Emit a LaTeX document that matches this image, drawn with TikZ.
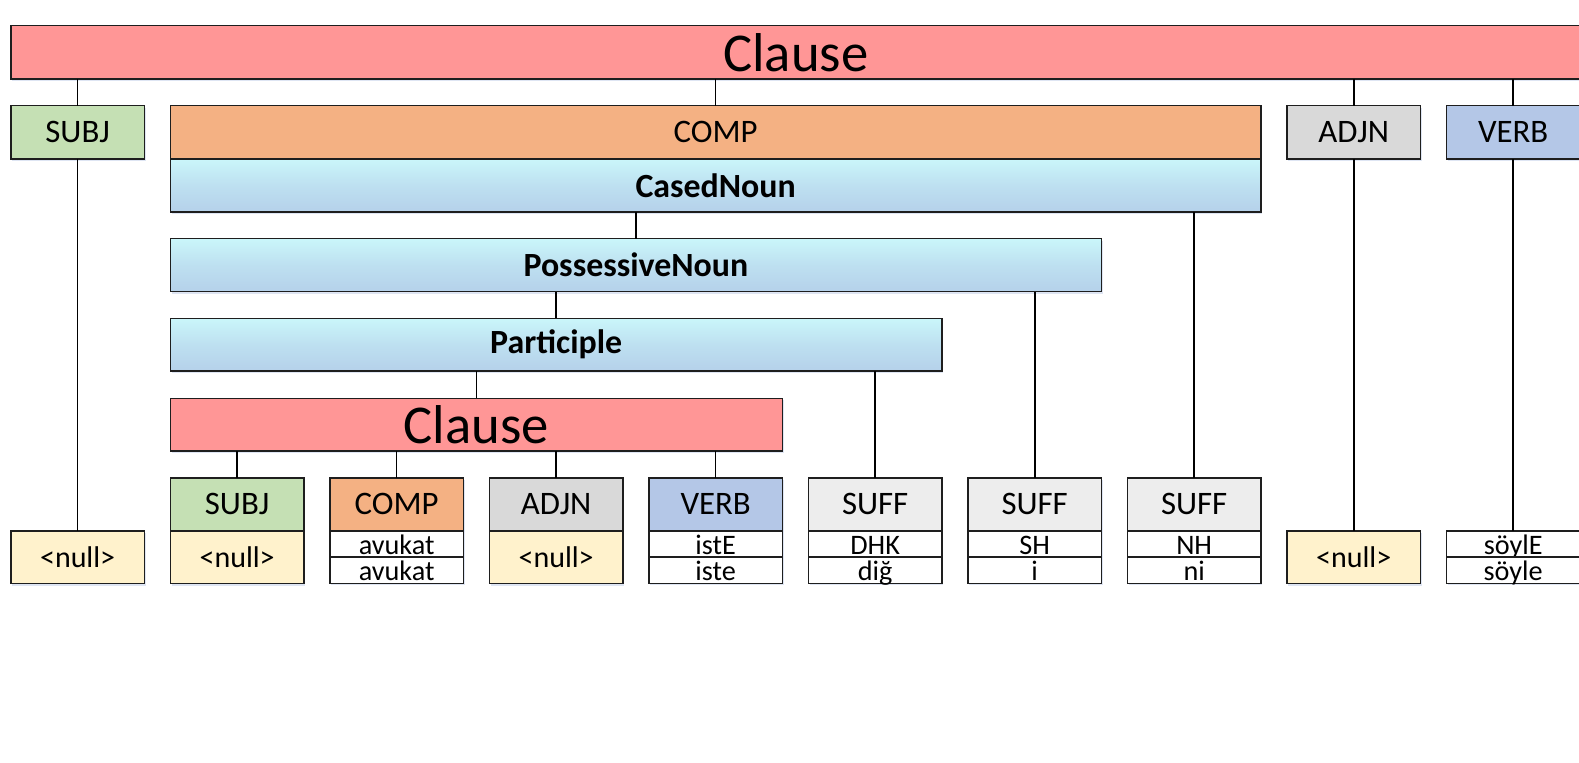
\documentclass[tikz,border=0pt]{standalone}
\usepackage{fontspec}
\setmainfont{Carlito}
\usetikzlibrary{shadows}
\definecolor{clausered}{RGB}{255,150,150}
\definecolor{subjgreen}{RGB}{197,224,180}
\definecolor{comporange}{RGB}{244,177,131}
\definecolor{adjngray}{RGB}{217,217,217}
\definecolor{verbblue}{RGB}{180,199,231}
\definecolor{suffgray}{RGB}{237,237,237}
\definecolor{nullyellow}{RGB}{255,242,204}
\definecolor{barcyan}{RGB}{202,246,250}
\definecolor{barblue}{RGB}{181,209,234}
\definecolor{edgecol}{RGB}{30,30,30}
\definecolor{shadowcol}{RGB}{200,212,235}
\newcommand\mybox[7]{\node[box,#6,minimum width=#4*0.5669pt,minimum height=#5*0.5669pt] (#1) at (#2,#3) {#7};}
\tikzset{
  box/.style={draw=edgecol, line width=0.9pt, inner sep=0pt, outer sep=0pt, anchor=north west, align=center,
    drop shadow={shadow xshift=0.8pt, shadow yshift=-1.2pt, opacity=0.6, fill=shadowcol}},
  bigclause/.style={fill=clausered, font=\fontsize{31}{34}\selectfont},
  hdr/.style={font=\fontsize{18.6}{20}\selectfont},
  subjbox/.style={hdr, fill=subjgreen},
  compbox/.style={hdr, fill=comporange},
  adjnbox/.style={hdr, fill=adjngray},
  verbbox/.style={hdr, fill=verbblue},
  suffbox/.style={hdr, fill=suffgray},
  bar/.style={top color=barcyan, bottom color=barblue, middle color=barblue!60!barcyan, font=\fontsize{19.2}{21}\selectfont\bfseries},
  nullbox/.style={fill=nullyellow, font=\fontsize{17}{18}\selectfont},
  rowbox/.style={fill=white, font=\fontsize{16}{17}\selectfont, text height=11.4pt, text depth=0pt},
  conn/.style={draw=black, line width=0.95pt}
}
\begin{document}
\begin{tikzpicture}[x=0.5669pt, y=-0.5669pt]
\useasboundingbox[fill=white] (0,0) rectangle (1579,762);
% top level
\mybox{clauseA}{11}{25.7}{1569.6}{53.3}{bigclause}{Clause}
\mybox{subjA}{11}{105.7}{133.3}{53.3}{subjbox}{SUBJ}
\mybox{compA}{170.5}{105.7}{1090.3}{53.3}{compbox}{COMP}
\mybox{adjnA}{1287}{105.7}{133.3}{53.3}{adjnbox}{ADJN}
\mybox{verbA}{1446.5}{105.7}{133.3}{53.3}{verbbox}{VERB}
% nested bars
\mybox{cased}{170.5}{159}{1090.3}{53}{bar}{CasedNoun}
\mybox{poss}{170.5}{238.7}{930.8}{53}{bar}{PossessiveNoun}
\mybox{part}{170.5}{318.3}{771.3}{52.7}{bar}{Participle}
\mybox{clauseB}{170.5}{398.3}{611.8}{52.7}{bigclause}{Clause}
% bottom headers
\mybox{subjB}{170.5}{477.7}{133.3}{53}{subjbox}{SUBJ}
\mybox{compB}{330}{477.7}{133.3}{53}{compbox}{COMP}
\mybox{adjnB}{489.5}{477.7}{133.3}{53}{adjnbox}{ADJN}
\mybox{verbB}{649}{477.7}{133.3}{53}{verbbox}{VERB}
\mybox{suffA}{808.5}{477.7}{133.3}{53}{suffbox}{SUFF}
\mybox{suffB}{968}{477.7}{133.3}{53}{suffbox}{SUFF}
\mybox{suffC}{1127.5}{477.7}{133.3}{53}{suffbox}{SUFF}
% null boxes
\mybox{nullA}{11}{530.7}{133.3}{52.7}{nullbox}{<null>}
\mybox{nullB}{170.5}{530.7}{133.3}{52.7}{nullbox}{<null>}
\mybox{nullC}{489.5}{530.7}{133.3}{52.7}{nullbox}{<null>}
\mybox{nullD}{1287}{530.7}{133.3}{52.7}{nullbox}{<null>}
% two-row boxes
\mybox{compR1}{330}{530.7}{133.3}{26.5}{rowbox}{avukat}
\mybox{compR2}{330}{557.2}{133.3}{26.1}{rowbox}{avukat}
\mybox{verbR1}{649}{530.7}{133.3}{26.5}{rowbox}{istE}
\mybox{verbR2}{649}{557.2}{133.3}{26.1}{rowbox}{iste}
\mybox{suffAR1}{808.5}{530.7}{133.3}{26.5}{rowbox}{DHK}
\mybox{suffAR2}{808.5}{557.2}{133.3}{26.1}{rowbox}{diğ}
\mybox{suffBR1}{968}{530.7}{133.3}{26.5}{rowbox}{SH}
\mybox{suffBR2}{968}{557.2}{133.3}{26.1}{rowbox}{i}
\mybox{suffCR1}{1127.5}{530.7}{133.3}{26.5}{rowbox}{NH}
\mybox{suffCR2}{1127.5}{557.2}{133.3}{26.1}{rowbox}{ni}
\mybox{verbAR1}{1446.5}{530.7}{133.3}{26.5}{rowbox}{söylE}
\mybox{verbAR2}{1446.5}{557.2}{133.3}{26.1}{rowbox}{söyle}
% connectors
\draw[conn] (subjA.north) -- (subjA.north |- clauseA.south);
\draw[conn] (compA.north) -- (compA.north |- clauseA.south);
\draw[conn] (adjnA.north) -- (adjnA.north |- clauseA.south);
\draw[conn] (verbA.north) -- (verbA.north |- clauseA.south);
\draw[conn] (subjA.south) -- (nullA.north);
\draw[conn] (adjnA.south) -- (nullD.north);
\draw[conn] (verbA.south) -- (verbAR1.north);
\draw[conn] (poss.north) -- (poss.north |- cased.south);
\draw[conn] (part.north) -- (part.north |- poss.south);
\draw[conn] (clauseB.north) -- (clauseB.north |- part.south);
\draw[conn] (suffC.north) -- (suffC.north |- cased.south);
\draw[conn] (suffB.north) -- (suffB.north |- poss.south);
\draw[conn] (suffA.north) -- (suffA.north |- part.south);
\draw[conn] (subjB.north) -- (subjB.north |- clauseB.south);
\draw[conn] (compB.north) -- (compB.north |- clauseB.south);
\draw[conn] (adjnB.north) -- (adjnB.north |- clauseB.south);
\draw[conn] (verbB.north) -- (verbB.north |- clauseB.south);
\end{tikzpicture}
\end{document}
